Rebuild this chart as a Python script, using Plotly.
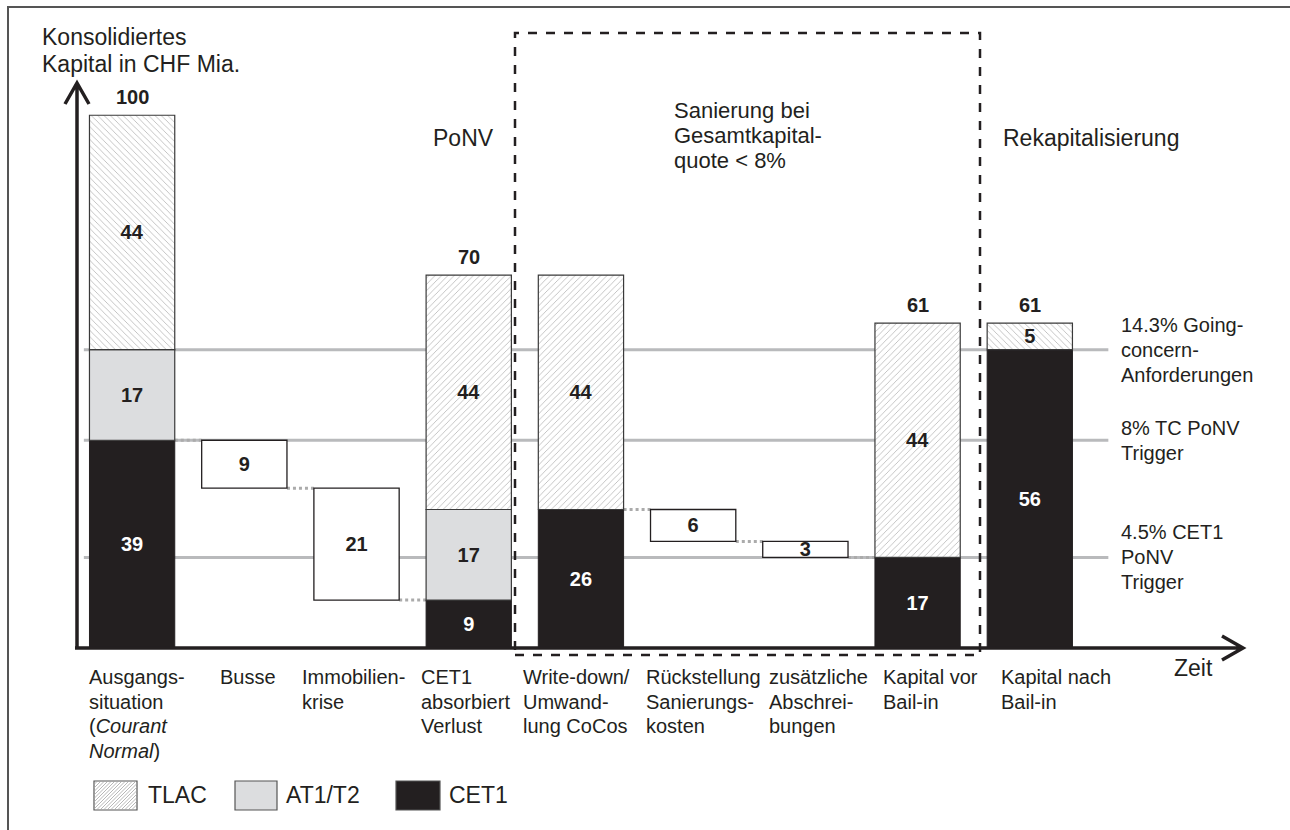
import plotly.graph_objects as go

# ---------------- data ----------------
categories = ["Ausgangssituation", "Busse", "Immobilienkrise", "CET1 absorbiert Verlust",
              "Write-down/Umwandlung CoCos", "Rückstellung Sanierungskosten",
              "zusätzliche Abschreibungen", "Kapital vor Bail-in", "Kapital nach Bail-in"]
category_lines = [
    ["Ausgangs-", "situation", "(<i>Courant</i>", "<i>Normal</i>)"],
    ["Busse"],
    ["Immobilien-", "krise"],
    ["CET1", "absorbiert", "Verlust"],
    ["Write-down/", "Umwand-", "lung CoCos"],
    ["Rückstellung", "Sanierungs-", "kosten"],
    ["zusätzliche", "Abschrei-", "bungen"],
    ["Kapital vor", "Bail-in"],
    ["Kapital nach", "Bail-in"],
]
cet1 = [39, None, None, 9, 26, None, None, 17, 56]
at1_t2 = [17, None, None, 17, None, None, None, None, None]
tlac = [44, None, None, 44, 44, None, None, 44, 5]
losses = [None, 9, 21, None, None, 6, 3, None, None]
total_labels = [100, None, None, 70, None, None, None, 61, 61]
tlac_hatch = ["\\", "", "", "/", "/", "", "", "/", "\\"]
threshold_values = [56, 39, 17]
threshold_labels = [["14.3% Going-", "concern-", "Anforderungen"],
                    ["8% TC PoNV", "Trigger"],
                    ["4.5% CET1", "PoNV", "Trigger"]]
phase_labels = ["PoNV", "Rekapitalisierung"]
sanierung_lines = ["Sanierung bei", "Gesamtkapital-", "quote < 8%"]
y_title_lines = ["Konsolidiertes", "Kapital in CHF Mia."]
legend_items = ["TLAC", "AT1/T2", "CET1"]

# ---------------- styling / layout helpers ----------------
INK = "#231f20"
GREY_FILL = "#dcdddf"
LINE_GREY = "#b9babc"
FONT = "Liberation Sans, Arial, sans-serif"
W, H = 1290, 830
PL, PR, PT, PB = 76, 47, 62, 182
PW, PH = W - PL - PR, H - PT - PB
YMAX = 110
XR = [-0.5, 9.9]
BW = 0.76
LABEL_LEFT_PX = [89, 220, 302, 421, 523, 646, 769, 883, 1001]


def px(x):
    return (x - PL) / PW


def py(y):
    return (H - PB - y) / PH


def ypix_of(v):
    return H - PB - v * PH / YMAX


n = len(categories)

# waterfall bases for the loss boxes
loss_base = []
level = None
for i in range(n):
    if losses[i] is not None:
        level -= losses[i]
        loss_base.append(level)
    else:
        loss_base.append(None)
        level = cet1[i]

at1_base = [c if a is not None else None for c, a in zip(cet1, at1_t2)]
tlac_base = [None if t is None else (c or 0) + (a or 0) for c, a, t in zip(cet1, at1_t2, tlac)]

fig = go.Figure()

common = dict(width=BW, textposition="inside", insidetextanchor="middle", textangle=0,
              constraintext="none", texttemplate="<b>%{text}</b>", hoverinfo="skip",
              showlegend=False)

fig.add_trace(go.Bar(x=categories, y=losses, base=loss_base, text=losses,
                     marker=dict(color="white", line=dict(color=INK, width=1.3)),
                     textfont=dict(family=FONT, size=20, color=INK), **common))
fig.add_trace(go.Bar(x=categories, y=cet1, base=[0 if c is not None else None for c in cet1],
                     text=cet1, name="CET1",
                     marker=dict(color=INK, line=dict(color=INK, width=1)),
                     textfont=dict(family=FONT, size=20, color="white"), **common))
fig.add_trace(go.Bar(x=categories, y=at1_t2, base=at1_base, text=at1_t2, name="AT1/T2",
                     marker=dict(color=GREY_FILL, line=dict(color="#3a3a3a", width=1.2)),
                     textfont=dict(family=FONT, size=20, color=INK), **common))
fig.add_trace(go.Bar(x=categories, y=tlac, base=tlac_base, text=tlac, name="TLAC",
                     marker=dict(color="white", line=dict(color="#3a3a3a", width=1.2),
                                 pattern=dict(shape=tlac_hatch, fgcolor="#a2a2a2",
                                              bgcolor="white", size=4.5, solidity=0.14,
                                              fillmode="replace")),
                     textfont=dict(family=FONT, size=20, color=INK), **common))

# totals above bars
for i, t in enumerate(total_labels):
    if t is None:
        continue
    top = (cet1[i] or 0) + (at1_t2[i] or 0) + (tlac[i] or 0)
    fig.add_annotation(x=i, y=top, xref="x", yref="y", text=f"<b>{t}</b>", showarrow=False,
                       yanchor="bottom", yshift=5, font=dict(family=FONT, size=20, color=INK))

# threshold lines (behind bars)
for v in threshold_values:
    fig.add_shape(type="line", xref="x", yref="y", x0=-0.43, x1=8.7, y0=v, y1=v,
                  line=dict(color=LINE_GREY, width=3), layer="below")

# dotted connectors
for i in range(1, n):
    if losses[i] is not None:
        lv = loss_base[i] + losses[i]
    elif losses[i - 1] is not None:
        lv = loss_base[i - 1]
    else:
        continue
    fig.add_shape(type="line", xref="x", yref="y", x0=i - 1 + BW / 2, x1=i - BW / 2,
                  y0=lv, y1=lv, line=dict(color="#ababab", width=3, dash="dot"), layer="below")


def add_lines(lines, x, y0, dy, size, xanchor="left", xref="paper"):
    for k, s in enumerate(lines):
        fig.add_annotation(x=x, y=py(y0 + k * dy), xref=xref, yref="paper", text=s,
                           showarrow=False, xanchor=xanchor, yanchor="middle",
                           font=dict(family=FONT, size=size, color=INK))


# category labels
for lx, lines in zip(LABEL_LEFT_PX, category_lines):
    add_lines(lines, px(lx - 2), 677, 24.5, 20)

# threshold labels
for v, lines in zip(threshold_values, threshold_labels):
    yc = ypix_of(v)
    add_lines(lines, px(1119), yc - (len(lines) - 1) * 25 / 2, 25, 20)

# y title and x title
add_lines(y_title_lines, px(40), 37, 27, 23)
add_lines(["Zeit"], px(1172), 668, 0, 23)

# phase labels
add_lines([phase_labels[0]], px(431), 138, 0, 23)
add_lines([phase_labels[1]], px(1001), 138, 0, 23)
add_lines(sanierung_lines, px(672), 110, 25.5, 22)

# dashed box
fig.add_shape(type="rect", xref="paper", yref="paper", x0=px(515), x1=px(980),
              y0=py(655), y1=py(33), line=dict(color=INK, width=2.5, dash="dash"),
              fillcolor="rgba(0,0,0,0)", layer="above")

# axes arrows
ax0x, ax0y = 77, 648
ypath = (f"M{px(ax0x)},{py(ax0y)} L{px(ax0x)},{py(83)} "
         f"M{px(65)},{py(104)} L{px(ax0x)},{py(83)} L{px(89)},{py(104)}")
xpath = (f"M{px(ax0x - 2)},{py(ax0y)} L{px(1243)},{py(ax0y)} "
         f"M{px(1222)},{py(636)} L{px(1243)},{py(ax0y)} L{px(1222)},{py(660)}")
for p in (ypath, xpath):
    fig.add_shape(type="path", xref="paper", yref="paper", path=p,
                  line=dict(color=INK, width=3.5), layer="above")

# outer frame (top + left)
fig.add_shape(type="path", xref="paper", yref="paper",
              path=f"M{px(8)},{py(835)} L{px(8)},{py(7)} L{px(1295)},{py(7)}",
              line=dict(color="#555555", width=2), layer="above")

# custom legend
leg_boxes = [(94, 137), (235, 277), (396, 440)]
leg_text_x = [146, 284, 447]
ly0, ly1 = 781, 810
fills = ["white", GREY_FILL, INK]
for (x0, x1), tx, fc, label in zip(leg_boxes, leg_text_x, fills, legend_items):
    fig.add_shape(type="rect", xref="paper", yref="paper", x0=px(x0), x1=px(x1),
                  y0=py(ly1), y1=py(ly0), fillcolor=fc, line=dict(color="#555555", width=1.2),
                  layer="above")
    add_lines([label], px(tx), 795, 0, 23)
# hatch for TLAC legend swatch
hx0, hx1 = leg_boxes[0]
w, h = hx1 - hx0, ly1 - ly0
segs = []
k = -h
while k < w:
    t0, t1 = max(0, -k), min(h, w - k)
    if t1 > t0:
        segs.append(f"M{px(hx0 + k + t0)},{py(ly1 - t0)} L{px(hx0 + k + t1)},{py(ly1 - t1)}")
    k += 3.5
fig.add_shape(type="path", xref="paper", yref="paper", path=" ".join(segs),
              line=dict(color="#a5a5a5", width=0.8), layer="above")

fig.update_layout(
    width=W, height=H, margin=dict(l=PL, r=PR, t=PT, b=PB),
    paper_bgcolor="white", plot_bgcolor="white", barmode="overlay",
    xaxis=dict(type="category", range=XR, visible=False, fixedrange=True),
    yaxis=dict(range=[0, YMAX], visible=False, fixedrange=True),
    font=dict(family=FONT, color=INK), showlegend=False,
)

fig.write_html("out.html")
